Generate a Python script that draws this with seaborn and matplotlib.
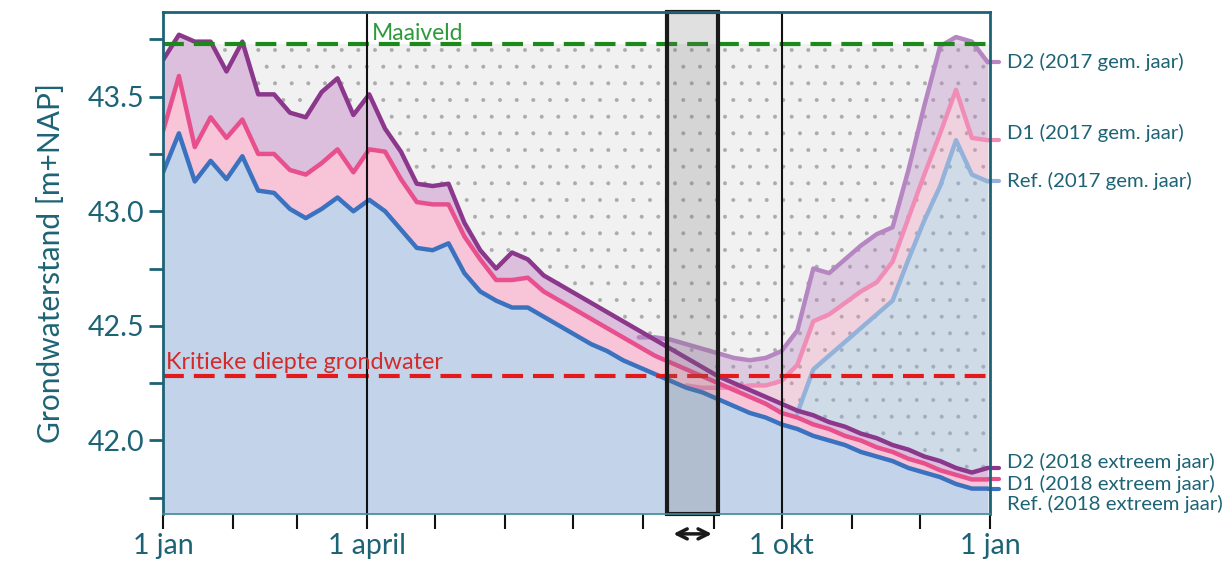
import numpy as np
import pandas as pd
import matplotlib
matplotlib.use('Agg')
import matplotlib.pyplot as plt
from matplotlib.patches import Rectangle
import seaborn as sns

# weekly groundwater levels [m+NAP], week 0 = 1 jan
weeks = list(range(53))
ref_2018 = [43.17, 43.34, 43.13, 43.22, 43.14, 43.24, 43.09, 43.08, 43.01, 42.97,
            43.01, 43.06, 43.00, 43.05, 43.00, 42.92, 42.84, 42.83, 42.86, 42.73,
            42.65, 42.61, 42.58, 42.58, 42.54, 42.50, 42.46, 42.42, 42.39, 42.35,
            42.32, 42.29, 42.26, 42.23, 42.21, 42.18, 42.15, 42.12, 42.10, 42.07,
            42.05, 42.02, 42.00, 41.98, 41.95, 41.93, 41.91, 41.88, 41.86, 41.84,
            41.81, 41.79, 41.79]
d1_2018 = [43.35, 43.59, 43.28, 43.41, 43.32, 43.40, 43.25, 43.25, 43.18, 43.16,
           43.21, 43.27, 43.17, 43.27, 43.26, 43.14, 43.04, 43.03, 43.03, 42.89,
           42.79, 42.70, 42.70, 42.71, 42.65, 42.61, 42.57, 42.53, 42.49, 42.45,
           42.41, 42.37, 42.34, 42.31, 42.28, 42.25, 42.22, 42.19, 42.16, 42.12,
           42.10, 42.07, 42.05, 42.02, 42.00, 41.97, 41.95, 41.92, 41.90, 41.87,
           41.85, 41.83, 41.83]
d2_2018 = [43.66, 43.77, 43.74, 43.74, 43.61, 43.74, 43.51, 43.51, 43.43, 43.41,
           43.52, 43.58, 43.42, 43.51, 43.36, 43.26, 43.12, 43.11, 43.12, 42.95,
           42.83, 42.75, 42.82, 42.79, 42.72, 42.68, 42.64, 42.60, 42.56, 42.52,
           42.48, 42.44, 42.40, 42.36, 42.32, 42.28, 42.25, 42.22, 42.19, 42.16,
           42.13, 42.11, 42.08, 42.06, 42.03, 42.01, 41.98, 41.96, 41.93, 41.91,
           41.88, 41.86, 41.88]

weeks_ref_2017 = list(range(40, 53))
ref_2017 = [42.12, 42.31, 42.37, 42.43, 42.49, 42.55, 42.61, 42.79, 42.96, 43.11,
            43.31, 43.16, 43.13]
weeks_d1_2017 = list(range(33, 53))
d1_2017 = [42.24, 42.23, 42.23, 42.23, 42.24, 42.24, 42.26, 42.33, 42.52, 42.55,
           42.60, 42.65, 42.69, 42.78, 42.97, 43.16, 43.34, 43.53, 43.32, 43.31]
weeks_d2_2017 = list(range(30, 53))
d2_2017 = [42.45, 42.45, 42.44, 42.42, 42.40, 42.38, 42.36, 42.35, 42.36, 42.39,
           42.48, 42.75, 42.73, 42.79, 42.85, 42.90, 42.93, 43.18, 43.46, 43.72,
           43.76, 43.74, 43.65]

maaiveld = 43.73
kritiek = 42.28

month_starts = [0, 31, 59, 90, 120, 151, 181, 212, 243, 273, 304, 334, 365]
x_labels = {0: '1 jan', 90: '1 april', 273: '1 okt', 365: '1 jan'}
y_ticks = [42.0, 42.5, 43.0, 43.5]
y_minor = [41.75, 42.25, 42.75, 43.25, 43.75]
window = (222.5, 245.0)  # highlighted period (days)

TEAL = '#1d6376'
C_REF, C_D1, C_D2 = '#3b72bf', '#e74f8d', '#8a378c'
C_REF_L, C_D1_L, C_D2_L = '#93b2da', '#f08db6', '#b686c2'


def main():
    sns.set_style('ticks')
    plt.rcParams['font.family'] = ['Lato', 'DejaVu Sans']
    plt.rcParams['hatch.linewidth'] = 0.4

    df = pd.DataFrame({'ref18': ref_2018, 'd1_18': d1_2018, 'd2_18': d2_2018}, index=weeks)
    df['ref17'] = pd.Series(ref_2017, index=weeks_ref_2017)
    df['d1_17'] = pd.Series(d1_2017, index=weeks_d1_2017)
    df['d2_17'] = pd.Series(d2_2017, index=weeks_d2_2017)
    df['day'] = df.index * 7

    y_bottom, y_top = 41.68, 43.87

    fig = plt.figure(figsize=(12.26, 5.64), dpi=100)
    ax = fig.add_axes([0.133, 0.089, 0.6745, 0.89])

    # stippled ground layer
    ax.fill_between([0, 365], y_bottom, maaiveld, facecolor='#f1f1f1', edgecolor='#ababab',
                    hatch='.', linewidth=0, zorder=0)

    # 2017 (transparent)
    s = df.loc[weeks_d2_2017]
    ax.fill_between(s['day'], s['d1_17'].fillna(s['d2_18']), s['d2_17'], color=C_D2_L, alpha=0.35, lw=0, zorder=1)
    s = df.loc[weeks_d1_2017]
    ax.fill_between(s['day'], s['ref17'].fillna(s['d1_18']), s['d1_17'], color=C_D1_L, alpha=0.3, lw=0, zorder=1)
    s = df.loc[weeks_ref_2017]
    ax.fill_between(s['day'], y_bottom, s['ref17'], color=C_REF_L, alpha=0.35, lw=0, zorder=1)

    # 2018 (opaque)
    ax.fill_between(df['day'], y_bottom, df['ref18'], color='#c3d4ea', lw=0, zorder=2)
    ax.fill_between(df['day'], df['ref18'], df['d1_18'], color='#f7c4d8', lw=0, zorder=2)
    ax.fill_between(df['day'], df['d1_18'], df['d2_18'], color='#dcbedd', lw=0, zorder=2)

    for col, c in [('ref17', C_REF_L), ('d1_17', C_D1_L), ('d2_17', C_D2_L)]:
        sns.lineplot(data=df, x='day', y=col, color=c, lw=3.2, ax=ax, zorder=3)
    for col, c in [('ref18', C_REF), ('d1_18', C_D1), ('d2_18', C_D2)]:
        sns.lineplot(data=df, x='day', y=col, color=c, lw=3.2, ax=ax, zorder=4)

    ax.axhline(maaiveld, color='#1b8a1b', lw=3, ls=(0, (5, 2.4)), zorder=5)
    ax.axhline(kritiek, color='#e4191b', lw=3, ls=(0, (5, 2.4)), zorder=5)
    ax.text(92, maaiveld + 0.015, 'Maaiveld', color='#2e9a3c', fontsize=16.5, va='baseline', zorder=6)
    ax.text(1.5, kritiek + 0.03, 'Kritieke diepte grondwater', color='#d42a2a', fontsize=16.8,
            va='baseline', zorder=6)

    for d in (90, 273):
        ax.axvline(d, color='#111111', lw=1.5, zorder=5)

    ax.add_patch(Rectangle((window[0], y_bottom), window[1] - window[0], y_top - y_bottom,
                           facecolor=(0.45, 0.45, 0.45, 0.22), edgecolor='#1a1a1a', lw=3,
                           zorder=6, clip_on=False))
    ax.annotate('', xy=(window[0] + 1.5, -0.04), xytext=(window[1] - 1.5, -0.04),
                xycoords=('data', 'axes fraction'),
                arrowprops=dict(arrowstyle='<->', lw=2.5, color='#1a1a1a', mutation_scale=18))

    # series labels on the right
    ends = df.iloc[-1]
    right = [('d2_17', C_D2_L, 'D2 (2017 gem. jaar)', 0.0),
             ('d1_17', C_D1_L, 'D1 (2017 gem. jaar)', 0.03),
             ('ref17', C_REF_L, 'Ref. (2017 gem. jaar)', 0.0),
             ('d2_18', C_D2, 'D2 (2018 extreem jaar)', 0.025),
             ('d1_18', C_D1, 'D1 (2018 extreem jaar)', -0.02),
             ('ref18', C_REF, 'Ref. (2018 extreem jaar)', -0.065)]
    for col, c, lab, dy in right:
        ax.plot([364, 369], [ends[col], ends[col]], color=c, lw=3, clip_on=False, zorder=4)
        ax.text(372.5, ends[col] + dy, lab, color=TEAL, fontsize=14.7, va='center', clip_on=False)

    ax.set_xlim(0, 365)
    ax.set_ylim(y_bottom, y_top)
    ax.set_xticks(list(x_labels))
    ax.set_xticklabels(list(x_labels.values()))
    ax.set_xticks([m for m in month_starts if m not in x_labels], minor=True)
    ax.set_yticks(y_ticks)
    ax.set_yticklabels([f'{v:.1f}' for v in y_ticks])
    ax.set_yticks(y_minor, minor=True)
    ax.tick_params(axis='x', which='both', length=11, width=1.5, color='#111111',
                   labelcolor=TEAL, labelsize=20.5, pad=3)
    ax.tick_params(axis='y', which='both', length=10, width=2, color=TEAL,
                   labelcolor=TEAL, labelsize=20.5)
    ax.set_xlabel('')
    ax.set_ylabel('Grondwaterstand [m+NAP]', color=TEAL, fontsize=21.5, labelpad=16)
    for side in ('left', 'top', 'right'):
        ax.spines[side].set_color(TEAL)
        ax.spines[side].set_linewidth(2)
    ax.spines['bottom'].set_color('#3f8a9a')
    ax.spines['bottom'].set_linewidth(1.2)
    for sp in ax.spines.values():
        sp.set_zorder(7)

    fig.savefig('out.png', dpi=100)


if __name__ == '__main__':
    main()
